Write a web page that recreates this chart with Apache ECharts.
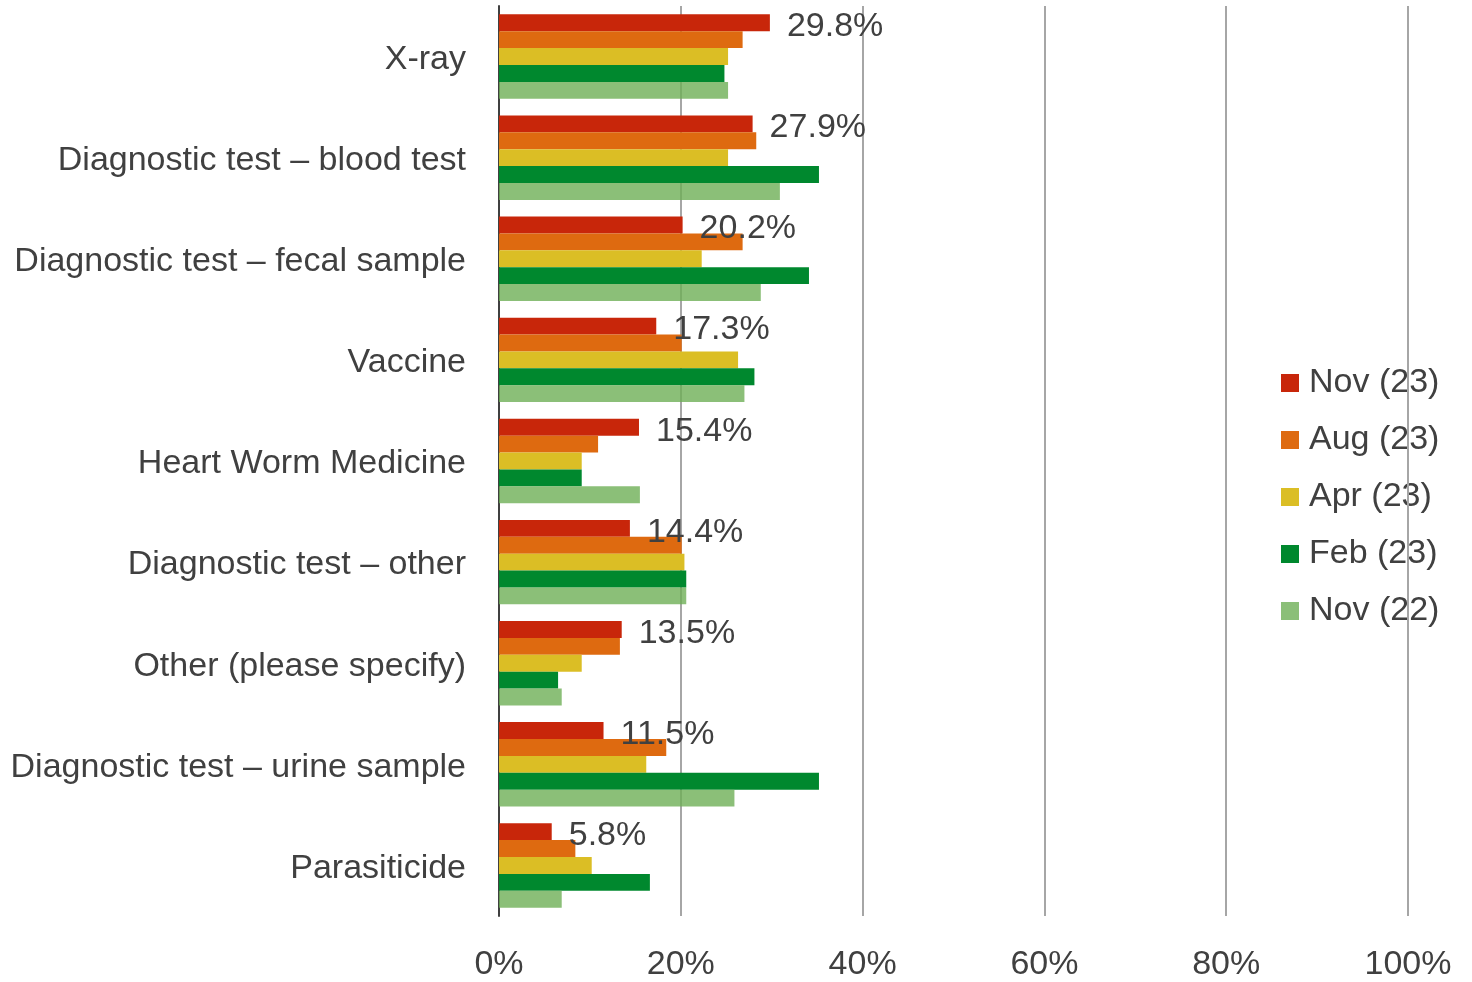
<!DOCTYPE html>
<html>
<head>
<meta charset="utf-8">
<script src="https://cdn.jsdelivr.net/npm/echarts@6/dist/echarts.min.js"></script>
<style>
    html, body { margin: 0; padding: 0; background: #fff; }
    #main { width: 1472px; height: 982px; }
</style>
</head>
<body>
<div id="main"></div>
<script>
// 类别（从上到下）
var categories = ['X-ray', 'Diagnostic test – blood test', 'Diagnostic test – fecal sample', 'Vaccine',
    'Heart Worm Medicine', 'Diagnostic test – other', 'Other (please specify)',
    'Diagnostic test – urine sample', 'Parasiticide'];

var seriesNames = ['Nov (23)', 'Aug (23)', 'Apr (23)', 'Feb (23)', 'Nov (22)'];

// 各期数据 (%)
var nov23 = [29.8, 27.9, 20.2, 17.3, 15.4, 14.4, 13.5, 11.5, 5.8];
var aug23 = [26.8, 28.3, 26.8, 20.1, 10.9, 20.1, 13.3, 18.4, 8.4];
var apr23 = [25.2, 25.2, 22.3, 26.3, 9.1, 20.4, 9.1, 16.2, 10.2];
var feb23 = [24.8, 35.2, 34.1, 28.1, 9.1, 20.6, 6.5, 35.2, 16.6];
var nov22 = [25.2, 30.9, 28.8, 27.0, 15.5, 20.6, 6.9, 25.9, 6.9];

var xTicks = [0, 20, 40, 60, 80, 100];

var colors = ['#c8260a', '#de6a10', '#dbbe25', '#00882e', 'rgba(110,175,86,0.8)'];
var textColor = '#404040';
var font = 'Liberation Sans, Arial, sans-serif';

var myChart = echarts.init(document.getElementById('main'));

var allData = [nov23, aug23, apr23, feb23, nov22];
var series = [];
for (var i = 0; i < allData.length; i++) {
    series.push({
        name: seriesNames[i],
        type: 'bar',
        data: allData[i],
        barGap: '0%',
        barCategoryGap: '16.5%',
        itemStyle: { color: colors[i] },
        label: {
            show: i == 0,
            position: 'right',
            distance: 17,
            offset: [0, 4],
            fontSize: 34,
            fontFamily: font,
            color: textColor,
            formatter: function (p) { return p.value.toFixed(1) + '%'; }
        }
    });
}

myChart.setOption({
    animation: false,
    textStyle: { fontFamily: font },
    grid: { left: 499, right: 64, top: 6, bottom: 66, containLabel: false },
    legend: {
        orient: 'vertical',
        left: 1276,
        top: 360,
        z: -1,
        itemWidth: 18,
        itemHeight: 18,
        itemGap: 21,
        icon: 'rect',
        textStyle: { fontSize: 34, lineHeight: 36, color: textColor, fontFamily: font, padding: [0, 0, 0, 5] },
        data: seriesNames
    },
    xAxis: {
        type: 'value',
        min: xTicks[0],
        max: xTicks[xTicks.length - 1],
        interval: 20,
        axisLine: { show: false },
        axisTick: { show: false },
        splitLine: { show: true, lineStyle: { color: '#a6a6a6', width: 2 } },
        axisLabel: {
            margin: 32,
            fontSize: 34,
            color: textColor,
            fontFamily: font,
            formatter: '{value}%'
        }
    },
    yAxis: {
        type: 'category',
        inverse: true,
        data: categories,
        axisLine: { show: true, lineStyle: { color: '#404040', width: 2 } },
        axisTick: { show: false },
        axisLabel: {
            margin: 33,
            color: textColor,
            formatter: '{c|{value}}',
            rich: {
                c: { fontSize: 34, fontFamily: font, color: textColor, padding: [6, 0, 0, 0] }
            }
        }
    },
    series: series
});
</script>
</body>
</html>
